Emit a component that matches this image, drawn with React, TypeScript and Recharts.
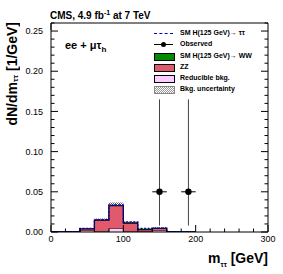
import { ComposedChart, Area, Line, Scatter, ErrorBar, XAxis, YAxis } from "recharts"

// bin low edges (GeV), 20 GeV bins; last row closes the histogram
const binEdges = [0, 20, 40, 60, 80, 100, 120, 140, 160, 180, 200]
const reducible = [0, 0, 0.002, 0.001, 0.0045, 0.001, 0.0005, 0.002, 0.0002, 0, 0]
const zz = [0, 0.0005, 0.002, 0.0138, 0.0282, 0.0102, 0.0026, 0.0025, 0.0003, 0, 0]
const hww = [0, 0, 0, 0.0002, 0.0003, 0.0003, 0.0002, 0.0001, 0, 0, 0]
const htt = [0, 0, 0.0004, 0.0003, 0.0006, 0.0012, 0.0012, 0.0002, 0, 0, 0]
const bkgErr = [0, 0.0002, 0.001, 0.0018, 0.0038, 0.0012, 0.0006, 0.0014, 0.0003, 0, 0]

const obsMass = [150, 190]
const obsValue = [0.05, 0.05]
const obsErrLow = [0.042, 0.042]
const obsErrHigh = [0.115, 0.115]
const obsHalfWidth = [10, 10]

const xMajor = [0, 100, 200, 300]
const yMajor = [0, 0.05, 0.1, 0.15, 0.2, 0.25]
const xMinor = Array.from({ length: 16 }, (_, i) => i * 20)
const yMinor = Array.from({ length: 27 }, (_, i) => i / 100)

const hist = binEdges.map((m, i) => {
    const tot = reducible[i] + zz[i] + hww[i]
    return {
        m,
        pink: reducible[i],
        zz: zz[i],
        ww: hww[i],
        sig: tot + htt[i],
        band: [tot - bkgErr[i], tot + bkgErr[i]],
    }
})

const obs = obsMass.map((m, i) => ({
    m,
    n: obsValue[i],
    ey: [obsErrLow[i], obsErrHigh[i]],
    ex: obsHalfWidth[i],
}))

const RED = "#e05a6b"
const PINK = "#ffccff"
const GREEN = "#008c00"
const font = '"Liberation Sans", Arial, Helvetica, sans-serif'
const MAJ = 7
const MIN = 3.5

const isXMajor = (v: number) => xMajor.includes(v)
const isYMajor = (v: number) => yMajor.some((t) => Math.abs(t - v) < 1e-6)

// inward ROOT-style ticks; label only on the major ones
function BottomTick(p: any) {
    const v = p.payload.value
    const len = isXMajor(v) ? MAJ : MIN
    const y0 = p.y - 4
    return (
        <g>
            <line x1={p.x} x2={p.x} y1={y0} y2={y0 - len} stroke="#000" />
            {isXMajor(v) && (
                <text x={p.x} y={p.y} dy="0.71em" textAnchor="middle" fontSize={9} fontFamily={font} fill="#000">
                    {v}
                </text>
            )}
        </g>
    )
}
function LeftTick(p: any) {
    const v = p.payload.value
    const len = isYMajor(v) ? MAJ : MIN
    const x0 = p.x + 8
    return (
        <g>
            <line x1={x0} x2={x0 + len} y1={p.y} y2={p.y} stroke="#000" />
            {isYMajor(v) && (
                <text x={p.x} y={p.y} dy="0.355em" textAnchor="end" fontSize={9} fontFamily={font} fill="#000">
                    {v.toFixed(2)}
                </text>
            )}
        </g>
    )
}
function TopTick(p: any) {
    const len = isXMajor(p.payload.value) ? MAJ : MIN
    return <line x1={p.x} x2={p.x} y1={p.y} y2={p.y + len} stroke="#000" />
}
function RightTick(p: any) {
    const len = isYMajor(p.payload.value) ? MAJ : MIN
    return <line x1={p.x} x2={p.x - len} y1={p.y} y2={p.y} stroke="#000" />
}

const legendRows = [
    { kind: "dash", label: <>SM H(125 GeV)→ ττ</> },
    { kind: "obs", label: <>Observed</> },
    { kind: "box", color: GREEN, label: <>SM H(125 GeV)→ WW</> },
    { kind: "box", color: RED, label: <>ZZ</> },
    { kind: "box", color: PINK, label: <>Reducible bkg.</> },
    { kind: "hatch", label: <>Bkg. uncertainty</> },
]

function Symbol({ kind, color }: { kind: string; color?: string }) {
    const box: any = { position: "absolute", left: 0, top: 1, width: 19, height: 6 }
    if (kind === "dash")
        return <div style={{ ...box, top: 3.5, height: 0, borderTop: "1px dashed #0000cc" }} />
    if (kind === "obs")
        return (
            <>
                <div style={{ ...box, top: 4, height: 0, borderTop: "1px solid #000" }} />
                <div style={{ position: "absolute", left: 7, top: 1.5, width: 5, height: 5, borderRadius: 3, background: "#000" }} />
            </>
        )
    if (kind === "hatch")
        return (
            <div
                style={{
                    ...box,
                    border: "1px solid #888",
                    background: "repeating-conic-gradient(#999 0 25%, #fff 0 50%) 0 0/2px 2px",
                }}
            />
        )
    return <div style={{ ...box, background: color, border: "1px solid #000" }} />
}

export default function App() {
    const common = { type: "number" as const, allowDataOverflow: true, interval: 0 as const, tickLine: false, tickSize: 0 }
    return (
        <div style={{ position: "relative", width: 283, height: 274, fontFamily: font }}>
            <style>{`body{margin:0}`}</style>
            <ComposedChart width={283} height={274} data={hist} margin={{ top: 22, right: 14, bottom: 0, left: 0 }}>
                <defs>
                    <pattern id="hatch" width="2" height="2" patternUnits="userSpaceOnUse">
                        <rect x="0" y="0" width="1" height="1" fill="#555" />
                        <rect x="1" y="1" width="1" height="1" fill="#555" />
                    </pattern>
                </defs>
                <XAxis xAxisId="b" dataKey="m" {...common} domain={[0, 300]} ticks={xMinor} height={42} tickMargin={4} axisLine={{ stroke: "#000" }} tick={BottomTick} />
                <XAxis xAxisId="t" orientation="top" {...common} domain={[0, 300]} ticks={xMinor} height={1} tickMargin={0} axisLine={{ stroke: "#000" }} tick={TopTick} />
                <YAxis yAxisId="l" {...common} domain={[0, 0.26]} ticks={yMinor} width={51} tickMargin={8} axisLine={{ stroke: "#000" }} tick={LeftTick} />
                <YAxis yAxisId="r" orientation="right" {...common} domain={[0, 0.26]} ticks={yMinor} width={1} tickMargin={0} axisLine={{ stroke: "#000" }} tick={RightTick} />

                <Line xAxisId="b" yAxisId="l" type="stepAfter" dataKey="sig" stroke="#0000dd" strokeDasharray="2 1.5" strokeWidth={1.3} dot={false} isAnimationActive={false} />
                <Area xAxisId="b" yAxisId="l" type="stepAfter" dataKey="band" fill="url(#hatch)" fillOpacity={1} stroke="none" isAnimationActive={false} />
                <Area xAxisId="b" yAxisId="l" type="stepAfter" dataKey="pink" stackId="s" fill={PINK} fillOpacity={1} stroke="#000" strokeWidth={1} isAnimationActive={false} />
                <Area xAxisId="b" yAxisId="l" type="stepAfter" dataKey="zz" stackId="s" fill={RED} fillOpacity={1} stroke="#000" strokeWidth={1.3} isAnimationActive={false} />
                <Area xAxisId="b" yAxisId="l" type="stepAfter" dataKey="ww" stackId="s" fill={GREEN} fillOpacity={1} stroke="none" isAnimationActive={false} />
                <Scatter
                    xAxisId="b"
                    yAxisId="l"
                    data={obs}
                    dataKey="n"
                    isAnimationActive={false}
                    shape={(p: any) => <circle cx={p.cx} cy={p.cy} r={3.2} fill="#000" />}
                >
                    <ErrorBar dataKey="ey" direction="y" width={0} stroke="#444" strokeWidth={1} />
                    <ErrorBar dataKey="ex" direction="x" width={0} stroke="#000" strokeWidth={1} />
                </Scatter>
            </ComposedChart>

            <div style={{ position: "absolute", left: 50, top: 9, fontSize: 10, fontWeight: "bold", whiteSpace: "nowrap" }}>
                CMS, 4.9 fb<sup style={{ fontSize: 7 }}>-1</sup> at 7 TeV
            </div>
            <div style={{ position: "absolute", left: 65, top: 39, fontSize: 11, fontWeight: "bold", whiteSpace: "nowrap" }}>
                ee + μτ<sub style={{ fontSize: 8 }}>h</sub>
            </div>
            <div
                style={{
                    position: "absolute",
                    left: 4,
                    top: 22,
                    fontSize: 14,
                    fontWeight: "bold",
                    whiteSpace: "nowrap",
                    writingMode: "vertical-rl",
                    transform: "rotate(180deg)",
                }}
            >
                dN/dm<sub style={{ fontSize: 8 }}>ττ</sub> [1/GeV]
            </div>
            <div style={{ position: "absolute", right: 15, top: 250, fontSize: 14, fontWeight: "bold", whiteSpace: "nowrap" }}>
                m<sub style={{ fontSize: 7 }}>ττ</sub> [GeV]
            </div>

            <div style={{ position: "absolute", left: 154, top: 29 }}>
                {legendRows.map((r, i) => (
                    <div key={i} style={{ position: "relative", height: 11.3, width: 110 }}>
                        <Symbol kind={r.kind} color={r.color} />
                        <div style={{ position: "absolute", left: 26, top: -1, fontSize: 7, fontWeight: "bold", whiteSpace: "nowrap", lineHeight: "10px" }}>
                            {r.label}
                        </div>
                    </div>
                ))}
            </div>
        </div>
    )
}
